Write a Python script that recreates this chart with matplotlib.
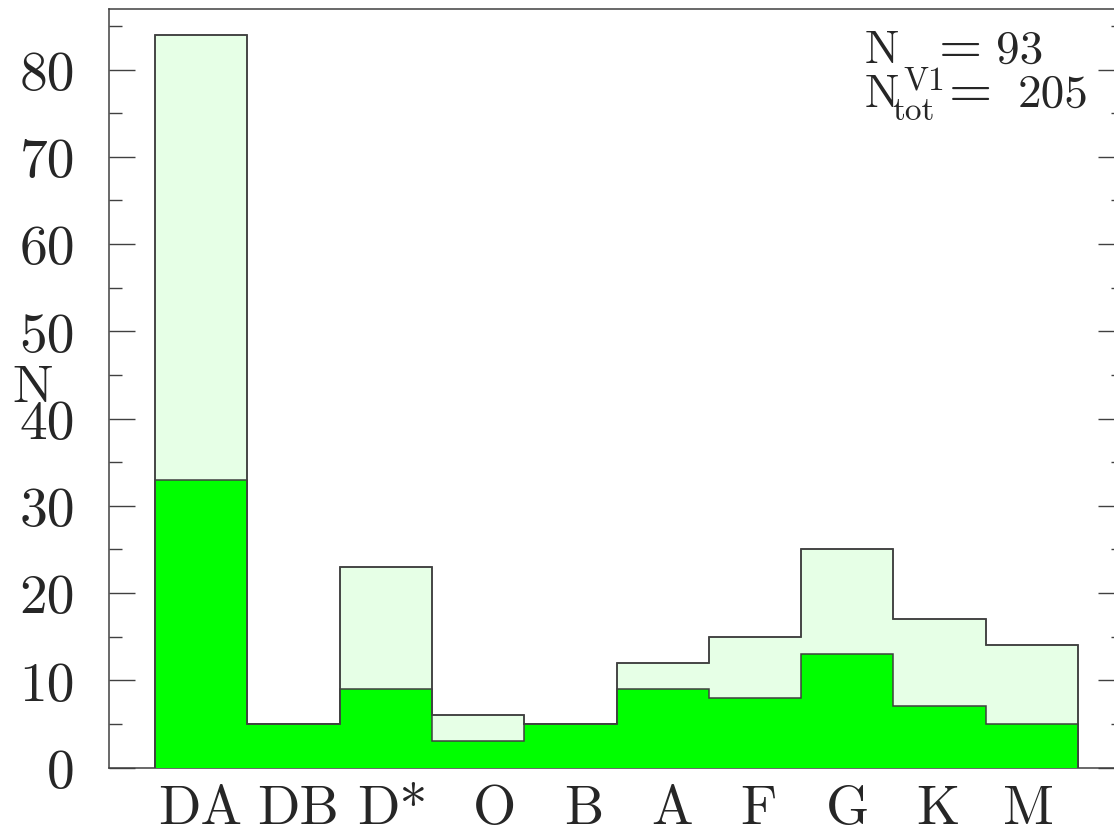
import matplotlib
matplotlib.use("Agg")
import matplotlib.pyplot as plt
import numpy as np
from matplotlib.ticker import MultipleLocator

# ---- data ----
categories = ["DA", "DB", "D*", "O", "B", "A", "F", "G", "K", "M"]
n_total = [84, 5, 23, 6, 5, 12, 15, 25, 17, 14]
n_v1 = [33, 5, 9, 3, 5, 9, 8, 13, 7, 5]
n_v1_label = 93
n_tot_label = 205

# ---- layout ----
W, H = 1114, 829
DPI = 100
label_x = [0.49, 1.55, 2.57, 3.68, 4.64, 5.60, 6.54, 7.50, 8.48, 9.46]
FONT = "cmr10"
TXT = "#262626"
LINE = "#404040"

plt.rcParams["axes.unicode_minus"] = False

fig = plt.figure(figsize=(W / DPI, H / DPI), dpi=DPI)
left, right, top, bottom = 109, 1124, 9.5, 768.5
ax = fig.add_axes([left / W, 1 - bottom / H, (right - left) / W, (bottom - top) / H])

edges = np.arange(len(categories) + 1)
ax.stairs(n_total, edges, fill=True, facecolor="#e6ffe6", edgecolor=LINE,
          linewidth=1.1, baseline=0, zorder=2)
ax.stairs(n_v1, edges, fill=True, facecolor="#00ff00", edgecolor=LINE,
          linewidth=1.1, baseline=0, zorder=3)
ax.stairs(n_total, edges, fill=False, edgecolor=LINE, linewidth=1.1,
          baseline=0, zorder=4)

ax.set_xlim(-0.5, 10.5)
ax.set_ylim(0, 87)

ax.yaxis.set_major_locator(MultipleLocator(10))
ax.yaxis.set_minor_locator(MultipleLocator(5))
ax.set_xticks([])
ax.tick_params(axis="y", which="both", direction="in", left=True, right=True,
               color=LINE, width=1.0, labelsize=40, labelcolor=TXT, pad=24.5)
ax.tick_params(axis="y", which="major", length=18.7)
ax.tick_params(axis="y", which="minor", length=9.4)
for lab in ax.get_yticklabels():
    lab.set_fontfamily(FONT)

for s in ax.spines.values():
    s.set_color(LINE)
    s.set_linewidth(1.1)

# category labels (baseline at pixel y=824)
label_y = -(824 - bottom) / (bottom - top)
for x, c in zip(label_x, categories):
    ax.text(x, label_y, c, transform=ax.get_xaxis_transform(), ha="center",
            va="baseline", fontsize=40, family=FONT, color=TXT)

def fp(x, y):
    return x / W, 1 - y / H

# y label
fig.text(*fp(12, 402), "N", ha="left", va="baseline", fontsize=39, family=FONT, color=TXT)

# annotation
fig.text(*fp(865, 63), "N", ha="left", va="baseline", fontsize=33, family=FONT, color=TXT)
fig.text(*fp(903, 90), "V1", ha="left", va="baseline", fontsize=24, family=FONT, color=TXT)
fig.text(*fp(961, 63), "=", ha="center", va="baseline", fontsize=40, family=FONT, color=TXT)
fig.text(*fp(1043, 63), str(n_v1_label), ha="right", va="baseline", fontsize=34,
         family=FONT, color=TXT)
fig.text(*fp(865, 107), "N", ha="left", va="baseline", fontsize=33, family=FONT, color=TXT)
fig.text(*fp(892, 120), "tot", ha="left", va="baseline", fontsize=24, family=FONT, color=TXT)
fig.text(*fp(971, 107), "=", ha="center", va="baseline", fontsize=40, family=FONT, color=TXT)
fig.text(*fp(1088, 107), str(n_tot_label), ha="right", va="baseline", fontsize=34,
         family=FONT, color=TXT)

fig.savefig("out.png", dpi=DPI)
